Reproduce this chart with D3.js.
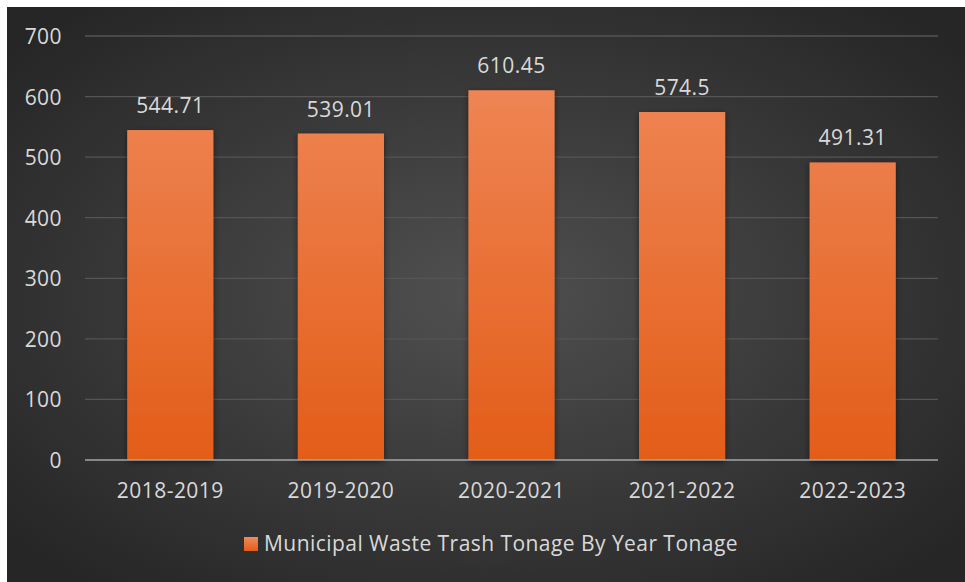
<!DOCTYPE html>
<html><head><meta charset="utf-8">
<script src="https://cdn.jsdelivr.net/npm/d3@7"></script>
<style>
html,body{margin:0;padding:0;background:#fff;}
svg{display:block;}
text{font-family:"Open Sans","Liberation Sans",sans-serif;}
</style></head>
<body>
<script>
const categories = ["2018-2019","2019-2020","2020-2021","2021-2022","2022-2023"];
const values = [544.71, 539.01, 610.45, 574.5, 491.31];
const yTicks = [0,100,200,300,400,500,600,700];
const seriesName = "Municipal Waste Trash Tonage By Year Tonage";

const W = 965, H = 582;
const FS = "21px", LS = "0.45px";
const svg = d3.select("body").append("svg").attr("width", W).attr("height", H);
const defs = svg.append("defs");

const bg = defs.append("radialGradient").attr("id","bg")
  .attr("cx","50%").attr("cy","50%").attr("r","65%");
bg.append("stop").attr("offset","0%").attr("stop-color","#505050");
bg.append("stop").attr("offset","100%").attr("stop-color","#262626");

const bar = defs.append("linearGradient").attr("id","bar")
  .attr("gradientUnits","userSpaceOnUse").attr("x1",0).attr("y1",36).attr("x2",0).attr("y2",460);
bar.append("stop").attr("offset","0%").attr("stop-color","#f08a5d");
bar.append("stop").attr("offset","100%").attr("stop-color","#e35d18");

const lg = defs.append("linearGradient").attr("id","lg").attr("x1",0).attr("y1",0).attr("x2",0).attr("y2",1);
lg.append("stop").attr("offset","0%").attr("stop-color","#f08a5d");
lg.append("stop").attr("offset","100%").attr("stop-color","#e35d18");

const sh = defs.append("filter").attr("id","sh").attr("x","-20%").attr("y","-10%").attr("width","140%").attr("height","120%");
sh.append("feGaussianBlur").attr("in","SourceAlpha").attr("stdDeviation",3).attr("result","b");
sh.append("feOffset").attr("in","b").attr("dx",0).attr("dy",2).attr("result","o");
sh.append("feComponentTransfer").attr("in","o").attr("result","o2")
  .append("feFuncA").attr("type","linear").attr("slope",0.5);
const fm = sh.append("feMerge");
fm.append("feMergeNode").attr("in","o2");
fm.append("feMergeNode").attr("in","SourceGraphic");

svg.append("rect").attr("x",7).attr("y",7).attr("width",W-7).attr("height",H-7).attr("fill","url(#bg)");

const x = d3.scaleBand().domain(categories).range([85,938]).paddingInner(0.495).paddingOuter(0.2475);
const y = d3.scaleLinear().domain([0,700]).range([460,36]);

// gridlines
svg.append("g").selectAll("line").data(yTicks.filter(d=>d>0)).join("line")
  .attr("x1",85).attr("x2",938).attr("y1",d=>y(d)).attr("y2",d=>y(d))
  .attr("stroke","#555555").attr("stroke-width",1.3);

// y axis labels
const yAxis = d3.axisLeft(y).tickValues(yTicks).tickSize(0).tickPadding(0).tickFormat(d3.format("d"));
const ya = svg.append("g").attr("transform","translate(62,0)").call(yAxis);
ya.select(".domain").remove();
ya.selectAll("text").attr("fill","#d9d9d9").style("font-size",FS).style("letter-spacing",LS).attr("dy","0.36em")
  .style("font-family",'"Open Sans","Liberation Sans",sans-serif');

// bars
svg.append("g").selectAll("rect").data(values).join("rect")
  .attr("x",(d,i)=>x(categories[i])).attr("width",x.bandwidth())
  .attr("y",d=>y(d)).attr("height",d=>y(0)-y(d))
  .attr("fill","url(#bar)").attr("filter","url(#sh)");

// baseline
svg.append("line").attr("x1",85).attr("x2",938).attr("y1",y(0)).attr("y2",y(0))
  .attr("stroke","#a6a6a6").attr("stroke-width",1.5);

// value labels
svg.append("g").selectAll("text").data(values).join("text")
  .attr("x",(d,i)=>x(categories[i])+x.bandwidth()/2).attr("y",d=>y(d)-17)
  .attr("text-anchor","middle").attr("fill","#d9d9d9").style("font-size",FS).style("letter-spacing",LS)
  .text(d=>d);

// x axis
const xAxis = d3.axisBottom(x).tickSize(0).tickPadding(0);
const xa = svg.append("g").attr("transform",`translate(0,${y(0)+38})`).call(xAxis);
xa.select(".domain").remove();
xa.selectAll("text").attr("fill","#d9d9d9").style("font-size",FS).style("letter-spacing",LS).attr("dy","0")
  .style("font-family",'"Open Sans","Liberation Sans",sans-serif');

// legend
const leg = svg.append("g");
leg.append("rect").attr("x",244).attr("y",537).attr("width",14).attr("height",14).attr("fill","url(#lg)");
leg.append("text").attr("x",264).attr("y",551).attr("fill","#d9d9d9").style("font-size",FS).style("letter-spacing",LS).text(seriesName);
</script>
</body></html>
